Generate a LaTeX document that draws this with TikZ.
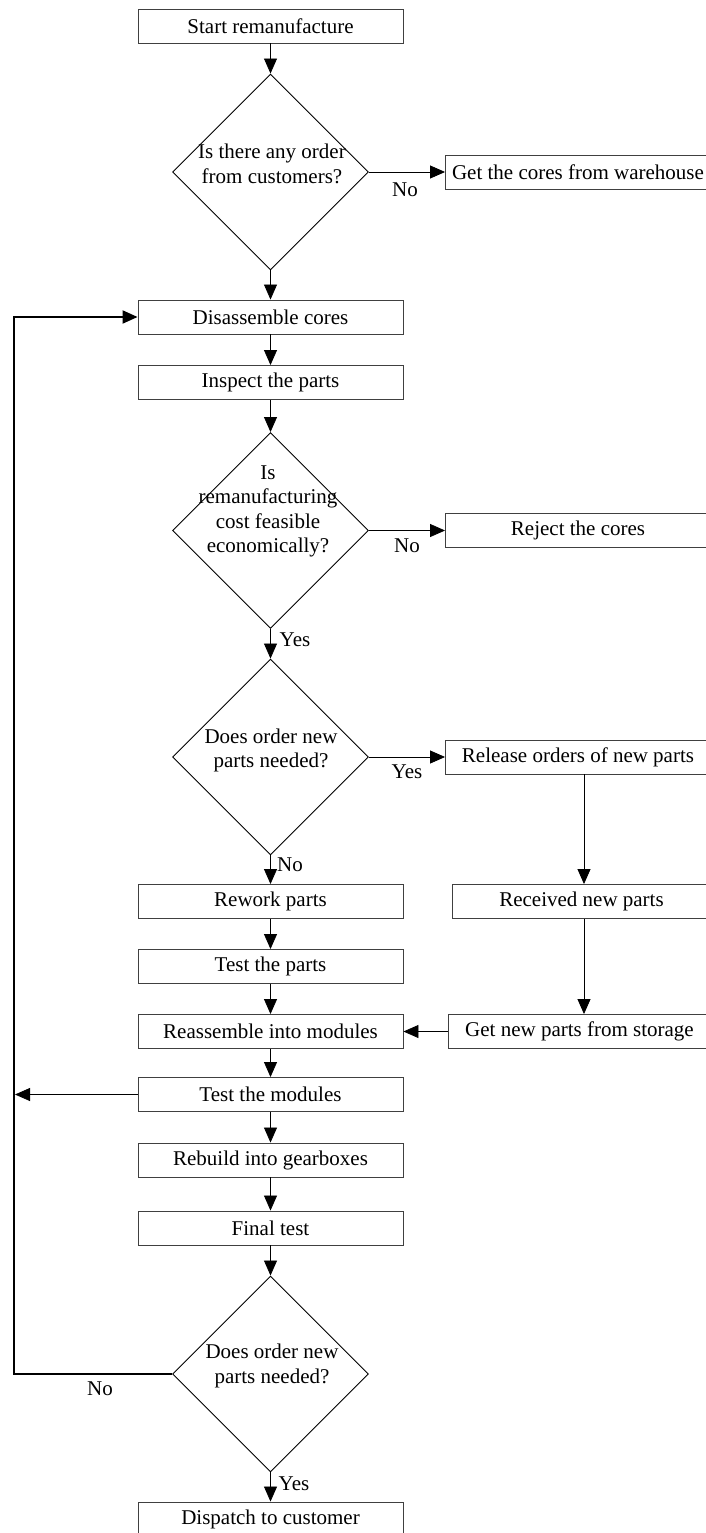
\documentclass[tikz,border=0pt]{standalone}
\usepackage{fontspec}
\setmainfont{Liberation Serif}
\usetikzlibrary{arrows.meta,shapes.geometric}
\begin{document}
\begin{tikzpicture}[x=1pt,y=-1pt,
  box/.style={draw=black!75, line width=0.9pt, rectangle, minimum width=265pt,
              minimum height=34pt, inner sep=0pt, font=\fontsize{21}{24}\selectfont},
  dia/.style={draw=black, line width=0.9pt, diamond, aspect=1,
              minimum width=196pt, minimum height=196pt, inner sep=0pt},
  qtext/.style={align=center, inner sep=0pt, font=\fontsize{21}{24.5}\selectfont},
  lbl/.style={inner sep=0pt, font=\fontsize{21}{24}\selectfont},
  tip/.style={-{Triangle[length=15pt,width=13pt]}},
  flow/.style={line width=0.8pt, tip},
  back/.style={line width=2pt, tip},
]
\useasboundingbox (0,0) rectangle (705,1533);

% main column
\node[box] (start)   at (270.5,26)     {Start remanufacture};
\node[dia] (q1)      at (270.5,172)    {};
\node[qtext] (q1t)   at (272,164)      {Is there any order\\from customers?};
\node[box] (dis)     at (270.5,317)    {Disassemble cores};
\node[box] (insp)    at (270.5,382.5)  {Inspect the parts};
\node[dia] (q2)      at (270.5,530.5)  {};
\node[qtext] (q2t)   at (268,511.5)    {Is\\remanufacturing\\cost feasible\\economically?};
\node[dia] (q3)      at (270.5,757)    {};
\node[qtext] (q3t)   at (271,750.5)    {Does order new\\parts needed?};
\node[box] (rew)     at (270.5,901.5)  {Rework parts};
\node[box] (tparts)  at (270.5,966.5)  {Test the parts};
\node[box] (reas)    at (270.5,1031.5) {Reassemble into modules};
\node[box] (tmod)    at (270.5,1094.5) {Test the modules};
\node[box] (rebuild) at (270.5,1160)   {Rebuild into gearboxes};
\node[box] (final)   at (270.5,1228)   {Final test};
\node[dia] (q4)      at (270.5,1374)   {};
\node[qtext] (q4t)   at (272,1366)     {Does order new\\parts needed?};
\node[box] (disp)    at (270.5,1519)   {Dispatch to customer};

% side column
\node[box] (cores) at (578,172)    {Get the cores from warehouse};
\node[box] (rej)   at (578,530.5)  {Reject the cores};
\node[box] (rel)   at (578,757)    {Release orders of new parts};
\node[box, minimum width=259pt] (rec)  at (581.5,901.5)  {Received new parts};
\node[box, minimum width=263pt] (stor) at (579.5,1031.5) {Get new parts from storage};

% branch labels
\node[lbl] (n1) at (405,190)    {No};
\node[lbl] (n2) at (407,546)    {No};
\node[lbl] (y2) at (295,640)    {Yes};
\node[lbl] (y3) at (407,772)    {Yes};
\node[lbl] (n3) at (290,865)    {No};
\node[lbl] (n4) at (100,1389)   {No};
\node[lbl] (y4) at (294,1484)   {Yes};

% main flow
\draw[flow] (start) -- (q1);
\draw[flow] (q1) -- (dis);
\draw[flow] (dis) -- (insp);
\draw[flow] (insp) -- (q2);
\draw[flow] (q2) -- (q3);
\draw[flow] (q3) -- (rew);
\draw[flow] (rew) -- (tparts);
\draw[flow] (tparts) -- (reas);
\draw[flow] (reas) -- (tmod);
\draw[flow] (tmod) -- (rebuild);
\draw[flow] (rebuild) -- (final);
\draw[flow] (final) -- (q4);
\draw[flow] (q4) -- (disp);

% side branches
\draw[flow] (q1.east) -- (cores.west);
\draw[flow] (q2.east) -- (rej.west);
\draw[flow] (q3.east) -- (rel.west);
\draw[flow] ([xshift=6pt]rel.south) -- ([xshift=6pt]rel.south |- rec.north);
\draw[flow] ([xshift=2.5pt]rec.south) -- ([xshift=2.5pt]rec.south |- stor.north);
\draw[flow] (stor.west) -- (reas.east);

% return loop
\coordinate (tm) at (15,1094.5);
\coordinate (lb) at (14,1374);
\coordinate (lt) at (14,317);
\draw[flow] (tmod.west) -- (tm);
\draw[back] (q4.west) -- (lb) -- (lt) -- (dis.west);
\end{tikzpicture}
\end{document}
